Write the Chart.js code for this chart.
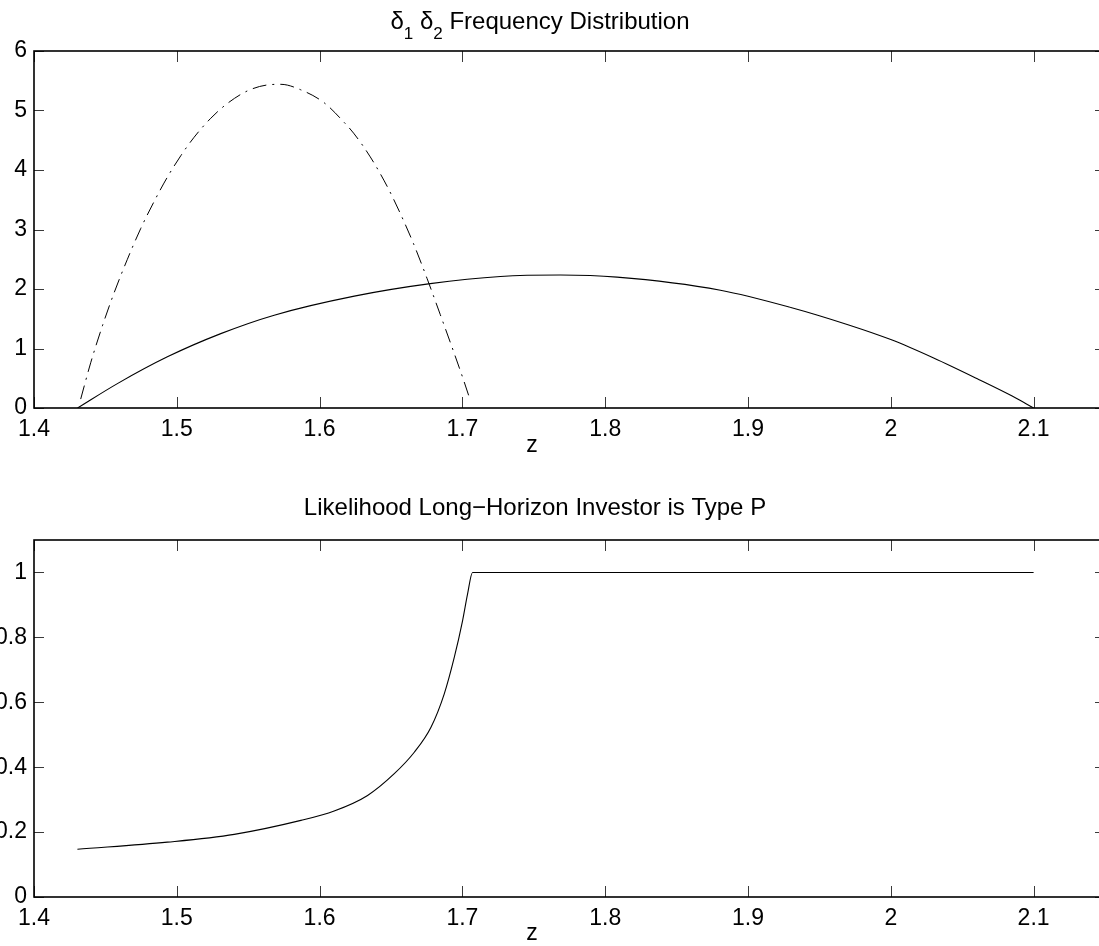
<!DOCTYPE html>
<html lang="en">
<head>
<meta charset="UTF-8" />
<title>Frequency Distribution and Likelihood</title>
<script src="https://cdn.jsdelivr.net/npm/chart.js"></script>
<style>
    html, body {
        margin: 0;
        padding: 0;
        background: #fff;
        overflow: hidden;
    }
    body {
        position: relative;
        width: 1099px;
        height: 946px;
    }
    canvas {
        position: absolute;
        left: 0;
    }
    #topChart { top: 0; }
    #bottomChart { top: 470px; }
</style>
</head>
<body>

<canvas id="topChart" width="1106" height="470"></canvas>
<canvas id="bottomChart" width="1106" height="476"></canvas>

<script>
    // tick labels
    const zTicks = [1.4, 1.5, 1.6, 1.7, 1.8, 1.9, 2, 2.1];
    const densityTicks = [0, 1, 2, 3, 4, 5, 6];
    const likelihoodTicks = [0, 0.2, 0.4, 0.6, 0.8, 1];

    // dash-dot curve (narrow distribution)
    const narrowZ = [1.4327, 1.4397, 1.4479, 1.456, 1.4654, 1.4748, 1.4841, 1.4934, 1.5028, 1.5121,
                     1.5238, 1.5355, 1.5495, 1.5635, 1.5729, 1.5866, 1.6032, 1.6172, 1.6238, 1.6355,
                     1.6472, 1.6565, 1.6658, 1.6752, 1.6845, 1.6938, 1.7008, 1.7055];
    const narrowDensity = [0.15, 0.76, 1.38, 1.93, 2.50, 3.02, 3.47, 3.88, 4.24, 4.55,
                           4.87, 5.12, 5.33, 5.43, 5.44, 5.35, 5.13, 4.80, 4.62, 4.22,
                           3.73, 3.27, 2.76, 2.18, 1.57, 0.95, 0.47, 0.13];

    // solid curve (wide distribution)
    const wideZ = [1.4305, 1.4584, 1.4934, 1.5308, 1.5682, 1.6243, 1.6775, 1.7266, 1.7686, 1.8083,
                   1.8807, 1.93, 1.97, 2.0, 2.03, 2.0615, 2.085, 2.1];
    const wideDensity = [0, 0.41, 0.86, 1.25, 1.56, 1.88, 2.09, 2.21, 2.235, 2.20,
                         1.98, 1.69, 1.40, 1.15, 0.84, 0.48, 0.20, 0];

    // likelihood long-horizon investor is type P
    const likeZ = [1.4304, 1.4934, 1.5402, 1.5869, 1.6102, 1.6336, 1.6523, 1.6663, 1.678, 1.6873,
                   1.6943, 1.7001, 1.7036, 1.7071, 2.1];
    const likeP = [0.147, 0.169, 0.193, 0.236, 0.265, 0.313, 0.38, 0.446, 0.523, 0.626,
                   0.738, 0.851, 0.933, 1.0, 1.0];

    const FONT = "'Liberation Sans', Arial, Helvetica, sans-serif";

    function points(xs, ys) {
        return xs.map((x, i) => ({ x: x, y: ys[i] }));
    }

    // box, inward ticks, titles and axis label like a matlab axes
    const matlabFrame = {
        id: 'matlabFrame',
        afterDraw(chart, args, opts) {
            const ctx = chart.ctx;
            const a = chart.chartArea;
            const xs = chart.scales.x;
            const ys = chart.scales.y;
            ctx.save();

            ctx.strokeStyle = '#3a3a3a';
            ctx.lineWidth = 1;
            ctx.beginPath();
            xs.ticks.forEach(t => {
                const p = Math.round(xs.getPixelForValue(t.value)) + 0.5;
                ctx.moveTo(p, a.bottom); ctx.lineTo(p, a.bottom - 11);
                ctx.moveTo(p, a.top); ctx.lineTo(p, a.top + 11);
            });
            ys.ticks.forEach(t => {
                const p = Math.round(ys.getPixelForValue(t.value)) + 0.5;
                ctx.moveTo(a.left, p); ctx.lineTo(a.left + 10, p);
                ctx.moveTo(a.right, p); ctx.lineTo(a.right - 10, p);
            });
            ctx.stroke();

            ctx.strokeStyle = '#000';
            ctx.lineWidth = 1.6;
            ctx.strokeRect(a.left, a.top, a.right - a.left, a.bottom - a.top);

            // title, possibly with subscripts
            ctx.fillStyle = '#000';
            ctx.textBaseline = 'alphabetic';
            ctx.textAlign = 'left';
            const mainFont = opts.titleSize + 'px ' + FONT;
            const subFont = opts.subSize + 'px ' + FONT;
            let total = 0;
            opts.title.forEach(seg => {
                ctx.font = seg[1] ? subFont : mainFont;
                total += ctx.measureText(seg[0]).width;
            });
            let x = opts.titleX - total / 2;
            opts.title.forEach(seg => {
                ctx.font = seg[1] ? subFont : mainFont;
                ctx.fillText(seg[0], x, opts.titleY + (seg[1] ? opts.subDrop : 0));
                x += ctx.measureText(seg[0]).width;
            });

            ctx.font = opts.labelSize + 'px ' + FONT;
            ctx.textAlign = 'center';
            ctx.fillText(opts.xLabel, opts.xLabelX, opts.xLabelY);
            ctx.restore();
        }
    };

    function makeChart(id, datasets, yTicks, yMax, padTop, xAxisHeight, frame) {
        return new Chart(document.getElementById(id), {
            type: 'line',
            data: { datasets: datasets },
            options: {
                responsive: false,
                animation: false,
                layout: { padding: { top: padTop, right: 1, left: 0, bottom: 0 } },
                plugins: {
                    legend: { display: false },
                    tooltip: { enabled: false },
                    matlabFrame: frame
                },
                scales: {
                    x: {
                        type: 'linear',
                        min: 1.4,
                        max: 2.15,
                        afterBuildTicks: s => { s.ticks = zTicks.map(v => ({ value: v })); },
                        afterFit: s => { s.height = xAxisHeight; },
                        grid: { display: false, drawTicks: false },
                        border: { display: false },
                        ticks: {
                            autoSkip: false,
                            maxRotation: 0,
                            padding: 8,
                            color: '#000',
                            font: { family: FONT, size: 23 },
                            callback: v => String(v)
                        }
                    },
                    y: {
                        min: 0,
                        max: yMax,
                        afterBuildTicks: s => { s.ticks = yTicks.map(v => ({ value: v })); },
                        afterFit: s => { s.width = 34; },
                        grid: { display: false, drawTicks: false },
                        border: { display: false },
                        ticks: {
                            padding: 7,
                            color: '#000',
                            font: { family: FONT, size: 23 },
                            callback: v => String(v)
                        }
                    }
                }
            },
            plugins: [matlabFrame]
        });
    }

    makeChart('topChart', [
        {
            data: points(narrowZ, narrowDensity),
            borderColor: '#000',
            borderWidth: 1,
            borderDash: [14, 6, 2, 6],
            pointRadius: 0,
            cubicInterpolationMode: 'monotone',
            fill: false
        },
        {
            data: points(wideZ, wideDensity),
            borderColor: '#000',
            borderWidth: 1.1,
            pointRadius: 0,
            cubicInterpolationMode: 'monotone',
            fill: false
        }
    ], densityTicks, 6, 51, 62, {
        title: [['\u03b4', false], ['1', true], [' \u03b4', false], ['2', true], [' Frequency Distribution', false]],
        titleX: 540, titleY: 29, titleSize: 24, subSize: 17, subDrop: 10,
        xLabel: 'z', xLabelX: 532, xLabelY: 452, labelSize: 23
    });

    makeChart('bottomChart', [
        {
            data: points(likeZ, likeP),
            borderColor: '#000',
            borderWidth: 1.1,
            pointRadius: 0,
            cubicInterpolationMode: 'monotone',
            fill: false
        }
    ], likelihoodTicks, 1.1, 70, 49, {
        title: [['Likelihood Long\u2212Horizon Investor is Type P', false]],
        titleX: 535, titleY: 45, titleSize: 24, subSize: 17, subDrop: 10,
        xLabel: 'z', xLabelX: 532, xLabelY: 470, labelSize: 23
    });
</script>

</body>
</html>
